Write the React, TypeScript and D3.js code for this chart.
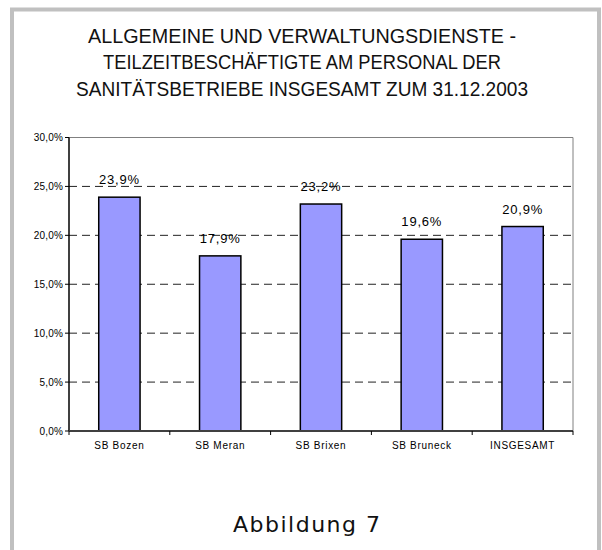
import React from 'react'
import * as d3 from 'd3'

const titleLines = [
  'ALLGEMEINE UND VERWALTUNGSDIENSTE -',
  'TEILZEITBESCHÄFTIGTE AM PERSONAL DER',
  'SANITÄTSBETRIEBE INSGESAMT ZUM 31.12.2003',
]
const titleWidths = [428, 398, 452]
const categories = ['SB Bozen', 'SB Meran', 'SB Brixen', 'SB Bruneck', 'INSGESAMT']
const values = [23.9, 17.9, 23.2, 19.6, 20.9]
const yTicks = [0, 5, 10, 15, 20, 25, 30]
const caption = 'Abbildung 7'

const locale = d3.formatLocale({ decimal: ',', thousands: '.', grouping: [3], currency: ['', '€'] })
const fmt = locale.format('.1f')
const pct = (v: number) => `${fmt(v)}%`

const W = 602
const H = 550
const plot = { left: 69, right: 573, top: 137.5, bottom: 431 }

export default function App() {
  const x = d3.scaleBand()
    .domain(categories)
    .range([plot.left, plot.right])
    .paddingInner(0.59)
    .paddingOuter(0.295)
  const y = d3.scaleLinear()
    .domain([0, 30])
    .range([plot.bottom, plot.top])

  const step = x.step()
  const boundaries = d3.range(categories.length + 1).map((i) => plot.left + i * step)
  const font = '"Liberation Sans", Arial, sans-serif'

  return (
    <svg width={W} height={H} style={{ position: 'absolute', left: 0, top: 0, display: 'block', background: '#fff' }}>
      <rect x={12} y={9.5} width={587} height={560} fill="none" stroke="#c0c0c0" strokeWidth={4} />

      {titleLines.map((t, i) => (
        <text
          key={t}
          x={302} y={42.5 + i * 26.7}
          textAnchor="middle"
          fontFamily={font}
          fontSize={20.5}
          fill="#111"
          textLength={titleWidths[i]}
          lengthAdjust="spacingAndGlyphs"
        >{t}</text>
      ))}

      {/* gridlines */}
      {yTicks.filter((t) => t > 0 && t < 30).map((t) => (
        <line key={t} x1={plot.left} x2={plot.right} y1={y(t)} y2={y(t)}
          stroke="#222" strokeWidth={1} strokeDasharray="8,5" />
      ))}

      {/* plot frame top / right */}
      <line x1={plot.left} x2={plot.right} y1={plot.top} y2={plot.top} stroke="#808080" strokeWidth={1} />
      <line x1={plot.right} x2={plot.right} y1={plot.top} y2={plot.bottom} stroke="#808080" strokeWidth={1} />

      {/* bars */}
      {categories.map((c, i) => (
        <rect key={c}
          x={x(c)} y={y(values[i])}
          width={x.bandwidth()} height={y(0) - y(values[i])}
          fill="#9999ff" stroke="#000" strokeWidth={1.5}
        />
      ))}

      {/* value labels */}
      {categories.map((c, i) => (
        <text key={c}
          x={(x(c) as number) + x.bandwidth() / 2} y={y(values[i]) - 13}
          textAnchor="middle" fontFamily={font} fontSize={13} letterSpacing={0.8} fill="#000"
        >{pct(values[i])}</text>
      ))}

      {/* y axis */}
      <line x1={plot.left} x2={plot.left} y1={plot.top} y2={plot.bottom} stroke="#000" strokeWidth={1.5} />
      {yTicks.map((t) => (
        <g key={t}>
          <line x1={plot.left - 4} x2={plot.left} y1={y(t)} y2={y(t)} stroke="#000" strokeWidth={1} />
          <text x={plot.left - 6} y={y(t)} dy="0.35em" textAnchor="end"
            fontFamily={font} fontSize={10} letterSpacing={0.2} fill="#000">{pct(t)}</text>
        </g>
      ))}

      {/* x axis */}
      <line x1={plot.left} x2={plot.right} y1={plot.bottom} y2={plot.bottom} stroke="#404040" strokeWidth={2} />
      {boundaries.map((bx, i) => (
        <line key={i} x1={bx} x2={bx} y1={plot.bottom} y2={plot.bottom + 4} stroke="#000" strokeWidth={1} />
      ))}
      {categories.map((c) => (
        <text key={c}
          x={(x(c) as number) + x.bandwidth() / 2} y={449}
          textAnchor="middle" fontFamily={font} fontSize={10} letterSpacing={0.7} fill="#000"
        >{c}</text>
      ))}

      <text x={306.5} y={531.7} textAnchor="middle" fontFamily='"DejaVu Sans", sans-serif'
        fontSize={22} fill="#111" textLength={147} lengthAdjust="spacing">{caption}</text>
    </svg>
  )
}
